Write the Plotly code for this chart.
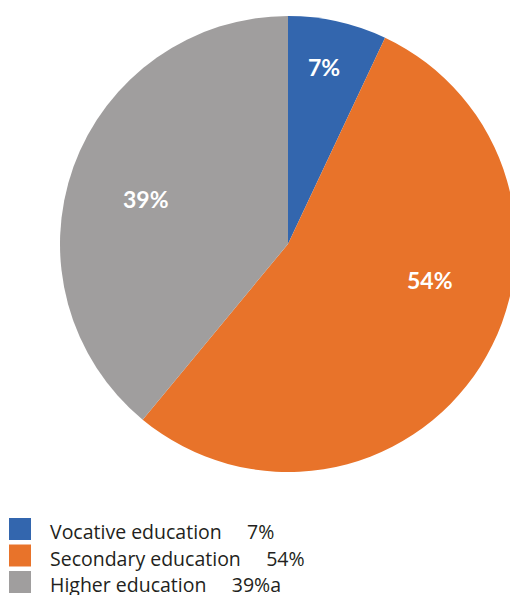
import math
import plotly.graph_objects as go

categories = ["Vocative education", "Secondary education", "Higher education"]
shares = [7, 54, 39]
legend_suffix = ["", "", "a"]
colors = ["#3366AE", "#E8732A", "#A09E9E"]

# label placement inside each slice: fraction of radius and angular nudge (deg)
label_radius = [0.795, 0.641, 0.654]
label_nudge = [-1.0, -18.7, -2.0]

W, H = 516, 595
cx, cy, r = 288, 244, 228


def px_to_paper(x, y):
    return x / W, 1 - y / H


fig = go.Figure()
fig.add_trace(go.Pie(
    labels=categories,
    values=shares,
    sort=False,
    direction="clockwise",
    rotation=0,
    marker=dict(colors=colors, line=dict(width=0)),
    textinfo="none",
    hoverinfo="label+percent",
    showlegend=False,
    domain=dict(x=[(cx - r) / W, (cx + r) / W], y=[(H - cy - r) / H, (H - cy + r) / H]),
))

annotations, shapes = [], []

# value labels, placed by slice angle
total = sum(shares)
cum = 0
for val, fr, nudge in zip(shares, label_radius, label_nudge):
    mid = (cum + val / 2) / total * 360 + nudge
    cum += val
    a = math.radians(mid)
    lx = cx + fr * r * math.sin(a)
    ly = cy - fr * r * math.cos(a) + 1
    px, py = px_to_paper(lx, ly)
    annotations.append(dict(xref="paper", yref="paper", x=px, y=py,
                            xanchor="center", yanchor="middle", showarrow=False,
                            text=f"{val}%",
                            font=dict(family="Lato", size=23, color="white", weight="bold")))

# custom legend below the pie
row0, step, box = 529, 26.5, 22
for i, (name, val, suf) in enumerate(zip(categories, shares, legend_suffix)):
    yc = row0 + i * step
    x0, y1 = px_to_paper(9, yc - box / 2)
    x1, y0 = px_to_paper(9 + box, yc + box / 2)
    shapes.append(dict(type="rect", xref="paper", yref="paper",
                       x0=x0, x1=x1, y0=y0, y1=y1,
                       fillcolor=colors[i], line=dict(width=0)))
    tx, ty = px_to_paper(48, yc + 2.5)
    annotations.append(dict(xref="paper", yref="paper", x=tx, y=ty,
                            xanchor="left", yanchor="middle", showarrow=False,
                            text=f"{name}" + "\u00a0" * 5 + f"{val}%{suf}",
                            font=dict(family="Open Sans", size=19.5, color="#231F20")))

fig.update_layout(
    width=W, height=H,
    margin=dict(l=0, r=0, t=0, b=0),
    paper_bgcolor="white",
    shapes=shapes,
    annotations=annotations,
)
fig.write_html("out.html")
